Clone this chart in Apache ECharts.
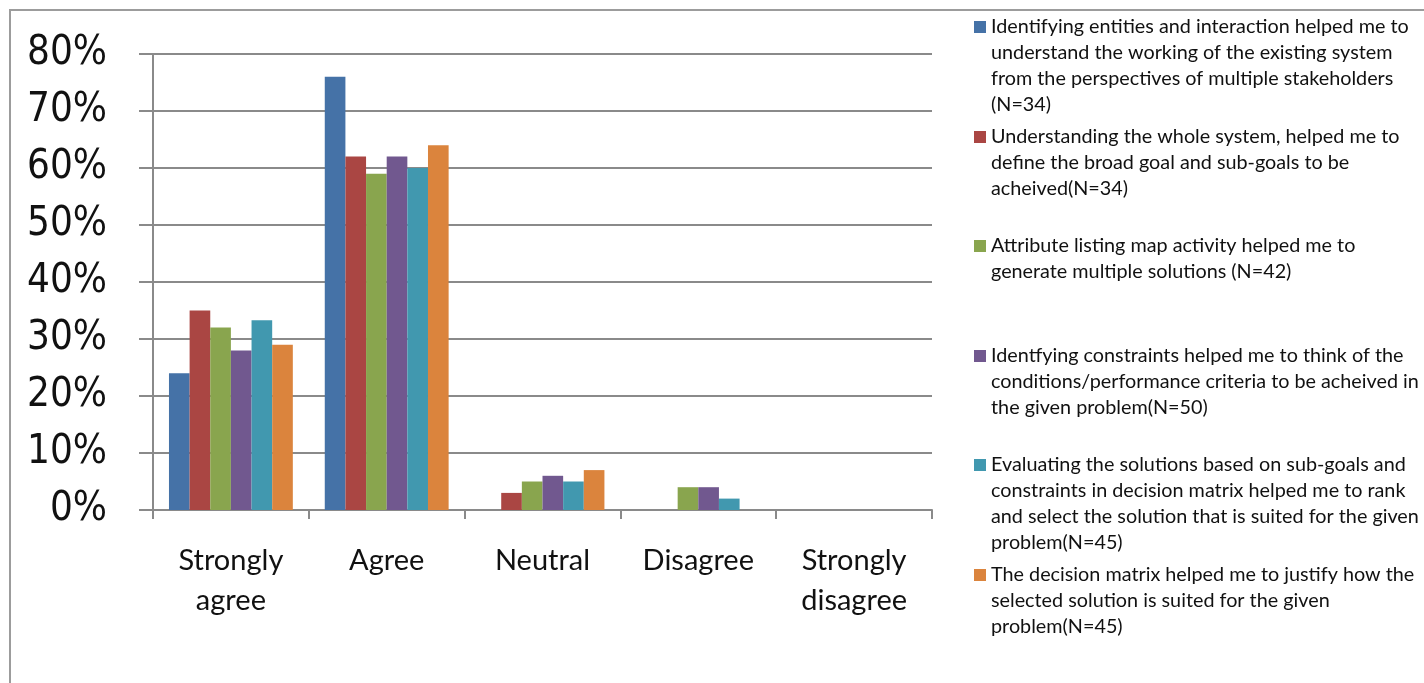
<!DOCTYPE html>
<html>
<head>
<meta charset="utf-8">
<script src="https://cdn.jsdelivr.net/npm/echarts@6/dist/echarts.min.js"></script>
<style>
  html, body { margin: 0; padding: 0; background: #fff; }
  #chart { width: 1424px; height: 683px; }
</style>
</head>
<body>
<div id="chart"></div>
<script>
// Response categories along the x axis
const categories = ['Strongly\nagree', 'Agree', 'Neutral', 'Disagree', 'Strongly\ndisagree'];

// Survey statements (legend text, wrapped as shown)
const seriesNames = [
  'Identifying entities and interaction helped me to\nunderstand the working of the existing system\nfrom the perspectives of multiple stakeholders\n(N=34)',
  'Understanding the whole system, helped me to\ndefine the broad goal and sub-goals to be\nacheived(N=34)',
  'Attribute listing map activity helped me to\ngenerate multiple solutions (N=42)',
  'Identfying constraints helped me to think of the\nconditions/performance criteria to be acheived in\nthe given problem(N=50)',
  'Evaluating the solutions based on sub-goals and\nconstraints in decision matrix helped me to rank\nand select the solution that is suited for the given\nproblem(N=45)',
  'The decision matrix helped me to justify how the\nselected solution is suited for the given\nproblem(N=45)'
];

// Percentage of respondents per category, one array per statement
const entitiesValues    = [24, 76, 0, 0, 0];
const wholeSystemValues = [35, 62, 3, 0, 0];
const attributeValues   = [32, 59, 5, 4, 0];
const constraintsValues = [28, 62, 6, 4, 0];
const evaluatingValues  = [33.3, 60, 5, 2, 0];
const justifyValues     = [29, 64, 7, 0, 0];

const seriesValues = [entitiesValues, wholeSystemValues, attributeValues,
                      constraintsValues, evaluatingValues, justifyValues];

// Y axis tick labels
const yTicks = [0, 10, 20, 30, 40, 50, 60, 70, 80];

const colors = ['#4572A7', '#AA4643', '#89A54E', '#71588F', '#4198AF', '#DB843D'];

const axisGray = '#8a8a8a';
const legendLineHeight = 26;
// vertical centre of each legend entry's first line
const legendFirstLine = [27, 137, 246, 356, 465, 575];

const legends = seriesNames.map((name, i) => {
  const n = name.split('\n').length;
  return {
    data: [name],
    orient: 'vertical',
    left: 974,
    top: legendFirstLine[i] - (n - 1) * legendLineHeight - legendLineHeight / 2,
    padding: 0,
    itemWidth: 12,
    itemHeight: 12,
    icon: 'rect',
    selectedMode: false,
    // blank lines above keep the marker level with the first text line
    formatter: nm => '\n'.repeat(nm.split('\n').length - 1) + nm,
    textStyle: {
      fontFamily: 'Lato, "Liberation Sans", sans-serif',
      fontSize: 19.8,
      lineHeight: legendLineHeight,
      color: '#111'
    }
  };
});

const chart = echarts.init(document.getElementById('chart'), null, { renderer: 'canvas' });

chart.setOption({
  animation: false,
  backgroundColor: '#fff',
  color: colors,
  graphic: [{
    type: 'rect',
    shape: { x: 10, y: 10, width: 1600, height: 900 },
    style: { fill: 'none', stroke: '#9c9c9c', lineWidth: 2 },
    silent: true,
    z: -1
  }],
  legend: legends,
  grid: { left: 153, right: 492, top: 54, bottom: 173, containLabel: false },
  xAxis: {
    type: 'category',
    data: categories,
    axisLine: { lineStyle: { color: axisGray, width: 2 } },
    axisTick: { show: true, length: 9, lineStyle: { color: axisGray, width: 2 } },
    axisLabel: {
      margin: 31,
      fontFamily: 'Lato, "Liberation Sans", sans-serif',
      fontSize: 29,
      lineHeight: 40,
      color: '#111'
    }
  },
  yAxis: {
    type: 'value',
    min: yTicks[0],
    max: yTicks[yTicks.length - 1],
    interval: yTicks[1] - yTicks[0],
    axisLine: { show: true, lineStyle: { color: axisGray, width: 2 } },
    axisTick: { show: true, length: 14, lineStyle: { color: axisGray, width: 2 } },
    splitLine: { lineStyle: { color: axisGray, width: 2 } },
    axisLabel: {
      margin: 46,
      formatter: '{value}%',
      fontFamily: '"DejaVu Sans Condensed", "Liberation Sans", sans-serif',
      fontSize: 40,
      color: '#111'
    }
  },
  series: seriesNames.map((name, i) => ({
    name: name,
    type: 'bar',
    data: seriesValues[i],
    barGap: '0%',
    barCategoryGap: '20.5%',
    itemStyle: { color: colors[i] }
  }))
});
</script>
</body>
</html>
